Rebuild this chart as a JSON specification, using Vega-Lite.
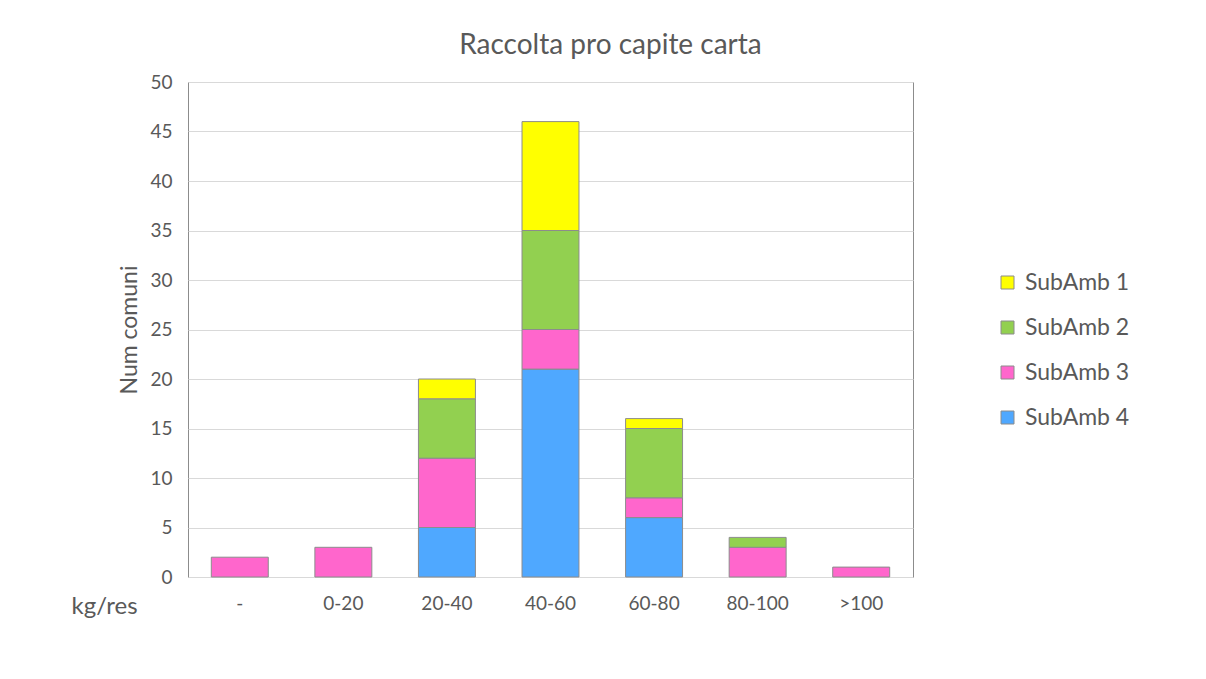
{
  "$schema": "https://vega.github.io/schema/vega-lite/v6.json",
  "autosize": "none",
  "width": 725,
  "height": 495,
  "padding": {"left": 188, "top": 82, "right": 293, "bottom": 102},
  "background": "white",
  "title": {
    "text": "Raccolta pro capite carta",
    "fontSize": 28,
    "font": "Lato",
    "fontWeight": "normal",
    "color": "#595959",
    "anchor": "middle",
    "dx": 60,
    "offset": 13
  },
  "data": {
    "values": [
      {"cat": "-", "sub": "SubAmb 3", "n": 2},
      {"cat": "0-20", "sub": "SubAmb 3", "n": 3},
      {"cat": "20-40", "sub": "SubAmb 4", "n": 5},
      {"cat": "20-40", "sub": "SubAmb 3", "n": 7},
      {"cat": "20-40", "sub": "SubAmb 2", "n": 6},
      {"cat": "20-40", "sub": "SubAmb 1", "n": 2},
      {"cat": "40-60", "sub": "SubAmb 4", "n": 21},
      {"cat": "40-60", "sub": "SubAmb 3", "n": 4},
      {"cat": "40-60", "sub": "SubAmb 2", "n": 10},
      {"cat": "40-60", "sub": "SubAmb 1", "n": 11},
      {"cat": "60-80", "sub": "SubAmb 4", "n": 6},
      {"cat": "60-80", "sub": "SubAmb 3", "n": 2},
      {"cat": "60-80", "sub": "SubAmb 2", "n": 7},
      {"cat": "60-80", "sub": "SubAmb 1", "n": 1},
      {"cat": "80-100", "sub": "SubAmb 3", "n": 3},
      {"cat": "80-100", "sub": "SubAmb 2", "n": 1},
      {"cat": ">100", "sub": "SubAmb 3", "n": 1}
    ]
  },
  "mark": {"type": "bar", "stroke": "#8c8c8c", "strokeWidth": 1},
  "encoding": {
    "x": {
      "field": "cat",
      "type": "nominal",
      "sort": ["-", "0-20", "20-40", "40-60", "60-80", "80-100", ">100"],
      "scale": {"paddingInner": 0.45, "paddingOuter": 0.225},
      "axis": {
        "title": "kg/res",
        "titleFont": "Lato",
        "titleFontSize": 24,
        "titleFontWeight": "normal",
        "titleColor": "#595959",
        "titleAnchor": "start",
        "titleAlign": "left",
        "titleBaseline": "middle",
        "titleX": -117,
        "titleY": 29,
        "labelAngle": 0,
        "labelFont": "Lato",
        "labelFontSize": 19,
        "labelColor": "#595959",
        "labelPadding": 17,
        "ticks": false,
        "domain": false,
        "grid": false
      }
    },
    "y": {
      "field": "n",
      "type": "quantitative",
      "aggregate": "sum",
      "stack": "zero",
      "scale": {"domain": [0, 50], "nice": false},
      "axis": {
        "title": "Num comuni",
        "titleFont": "Lato",
        "titleFontSize": 23,
        "titleFontWeight": "normal",
        "titleColor": "#595959",
        "titlePadding": 8,
        "values": [0, 5, 10, 15, 20, 25, 30, 35, 40, 45, 50],
        "labelFont": "Lato",
        "labelFontSize": 19,
        "labelColor": "#595959",
        "labelPadding": 16,
        "ticks": false,
        "domain": false,
        "gridColor": "#d9d9d9",
        "gridWidth": 1
      }
    },
    "color": {
      "field": "sub",
      "type": "nominal",
      "scale": {
        "domain": ["SubAmb 1", "SubAmb 2", "SubAmb 3", "SubAmb 4"],
        "range": ["#FFFF00", "#92D050", "#FF66CC", "#4FA8FF"]
      },
      "legend": {
        "title": null,
        "orient": "none",
        "legendX": 808,
        "legendY": 189,
        "symbolType": "square",
        "symbolSize": 169,
        "symbolStrokeColor": "#8c8c8c",
        "symbolStrokeWidth": 1,
        "symbolOpacity": 1,
        "labelFont": "Lato",
        "labelFontSize": 23,
        "labelColor": "#595959",
        "labelOffset": 6,
        "rowPadding": 21
      }
    },
    "order": {"field": "sub", "sort": "descending"}
  },
  "config": {
    "view": {"stroke": "#8c8c8c", "strokeWidth": 1}
  }
}
